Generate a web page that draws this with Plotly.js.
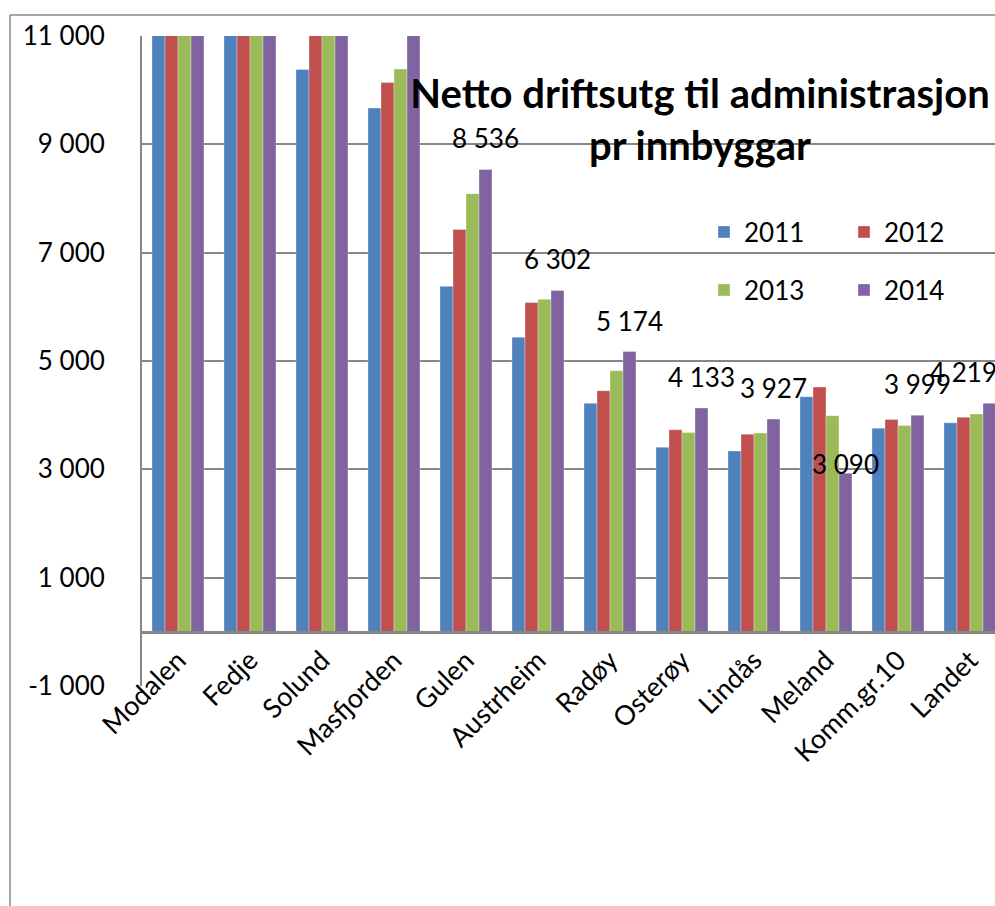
<!DOCTYPE html>
<html><head><meta charset="utf-8">
<script src="https://cdn.plot.ly/plotly-3.0.1.min.js"></script>
<style>html,body{margin:0;padding:0;overflow:hidden;background:#fff}</style>
</head><body><div id="chart" style="width:995px;height:906px"></div>
<script>
const categories = ["Modalen","Fedje","Solund","Masfjorden","Gulen","Austrheim","Radøy","Osterøy","Lindås","Meland","Komm.gr.10","Landet"];
const v2011 = [16500, 13800, 10380, 9670, 6380, 5440, 4220, 3410, 3340, 4340, 3760, 3860];
const v2012 = [17300, 14600, 11600, 10140, 7430, 6080, 4450, 3730, 3650, 4520, 3920, 3960];
const v2013 = [18200, 15300, 12100, 10390, 8090, 6140, 4820, 3680, 3670, 3990, 3810, 4020];
const v2014 = [19000, 16100, 12600, 11400, 8536, 6302, 5174, 4133, 3927, 2930, 3999, 4219];
const labels2014 = ["", "", "", "", "8 536", "6 302", "5 174", "4 133", "3 927", "3 090", "3 999", "4 219"];
const seriesNames = ["2011", "2012", "2013", "2014"];
const yTickVals = [-1000, 1000, 3000, 5000, 7000, 9000, 11000];
const yTickText = ["-1 000", "1 000", "3 000", "5 000", "7 000", "9 000", "11 000"];

const colors = ["#4F81BD", "#C0504D", "#9BBB59", "#8064A2"];
const FONT = "Lato, 'Liberation Sans', sans-serif";
const W = 995, H = 906, L = 142, T = 36, B = 220, R = 0;
const plotW = W - L - R, plotH = H - T - B;
const catPx = 72;
const bargap = 0.278;
const yRange = [-1000, 11000];

const series = [v2011, v2012, v2013, v2014];
const traces = series.map((vals, k) => ({
  type: "bar",
  name: seriesNames[k],
  x: categories,
  y: vals,
  marker: {color: colors[k], line: {width: 0.6, color: "rgba(255,255,255,0.55)"}},
  legend: k < 2 ? "legend" : "legend2",
  hoverinfo: "x+y+name"
}));

const barW = (1 - bargap) / 4;
const purpleOffset = 1.5 * barW;
// manual label nudges (px) as in the original chart
const labelYShift = {9: 9};
const labelXShift = {11: -26};
const annotations = [];
labels2014.forEach((t, i) => {
  if (!t) return;
  annotations.push({
    x: i + purpleOffset, y: v2014[i], xref: "x", yref: "y",
    text: t, showarrow: false, xanchor: "center", yanchor: "middle",
    yshift: (labelYShift[i] !== undefined ? labelYShift[i] : 31),
    xshift: (labelXShift[i] !== undefined ? labelXShift[i] : 0),
    font: {family: FONT, size: 26, color: "#000"}
  });
});

const px2paperX = p => (p - L) / plotW;
const px2paperY = p => (H - B - p) / plotH;
const border = "#898989";
const shapes = [
  {type: "line", xref: "paper", yref: "paper", x0: px2paperX(10), x1: px2paperX(1000), y0: px2paperY(15), y1: px2paperY(15), line: {color: border, width: 1.5}},
  {type: "line", xref: "paper", yref: "paper", x0: px2paperX(10), x1: px2paperX(10), y0: px2paperY(15), y1: px2paperY(910), line: {color: border, width: 1.5}}
];

const layout = {
  width: W, height: H,
  margin: {l: L, r: R, t: T, b: B, pad: 0},
  paper_bgcolor: "#fff", plot_bgcolor: "#fff",
  font: {family: FONT, size: 26, color: "#000"},
  barmode: "group", bargap: bargap, bargroupgap: 0,
  title: {
    text: "Netto driftsutg til administrasjon<br>pr innbyggar",
    font: {family: FONT, size: 40, weight: "bold", color: "#000"},
    xref: "container", x: 700 / W, xanchor: "center",
    yref: "container", y: 1 - 108 / H, yanchor: "top"
  },
  xaxis: {
    type: "category", range: [-0.5, -0.5 + plotW / catPx],
    anchor: "free", position: (0 - yRange[0]) / (yRange[1] - yRange[0]),
    showline: true, linecolor: "#868686", linewidth: 3,
    ticks: "", tickangle: -45, tickfont: {family: FONT, size: 27, color: "#000"},
    showgrid: false, zeroline: false, fixedrange: true
  },
  yaxis: {
    range: yRange, tickmode: "array", tickvals: yTickVals, ticktext: yTickText,
    showgrid: true, gridcolor: "#868686", gridwidth: 2,
    zeroline: false, showline: true, linecolor: "#868686", linewidth: 2,
    ticks: "", ticklabelstandoff: 30, tickfont: {family: FONT, size: 26, color: "#000"},
    fixedrange: true
  },
  legend: {
    x: px2paperX(704), y: px2paperY(232), xanchor: "left", yanchor: "middle",
    orientation: "h", entrywidth: 95, bgcolor: "rgba(0,0,0,0)",
    font: {family: FONT, size: 26, color: "#000"}
  },
  legend2: {
    x: px2paperX(704), y: px2paperY(290), xanchor: "left", yanchor: "middle",
    orientation: "h", entrywidth: 95, bgcolor: "rgba(0,0,0,0)",
    font: {family: FONT, size: 26, color: "#000"}
  },
  showlegend: true,
  annotations: annotations,
  shapes: shapes
};

Plotly.newPlot("chart", traces, layout, {displayModeBar: false, staticPlot: true});
</script></body></html>
